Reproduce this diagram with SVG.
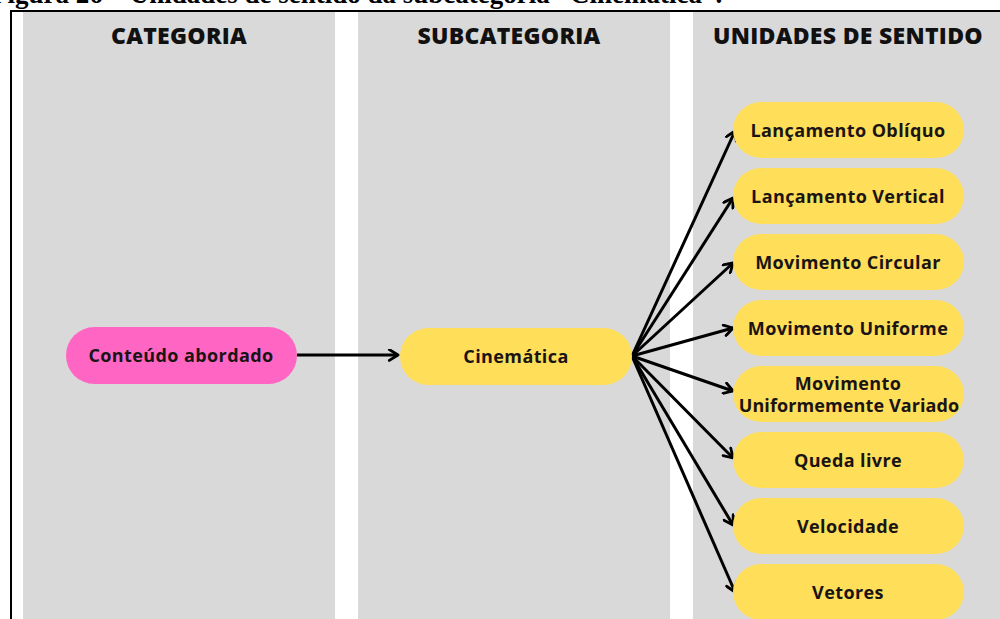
<svg xmlns="http://www.w3.org/2000/svg" width="1000" height="619" viewBox="0 0 1000 619">
  <style>
    .col { fill: #d9d9d9; }
    .hdr { font-family: "Open Sans", "DejaVu Sans", sans-serif; font-weight: 800; font-size: 23px; fill: #111; text-anchor: middle; letter-spacing: 0.3px; }
    .lbl { font-family: "Open Sans", "DejaVu Sans", sans-serif; font-weight: 700; font-size: 18px; fill: #1a1414; text-anchor: middle; dominant-baseline: central; letter-spacing: 0.4px; }
    .tight { letter-spacing: 0.1px; }
    .pink { fill: #ff66c4; }
    .yel { fill: #ffde59; }
    .cap { font-family: "Liberation Serif", "Times New Roman", serif; font-weight: 700; font-size: 27px; fill: #000; }
    .wire { stroke: #000; stroke-width: 3; fill: none; marker-end: url(#chev); }
  </style>
  <defs>
    <marker id="chev" viewBox="0 0 12 12" refX="10" refY="6" markerWidth="13" markerHeight="13" markerUnits="userSpaceOnUse" orient="auto">
      <path d="M2,1 L10,6 L2,11" fill="none" stroke="#000" stroke-width="2.6" stroke-linecap="round" stroke-linejoin="round"/>
    </marker>
  </defs>

  <rect width="1000" height="619" fill="#fff"/>

  <!-- caption, clipped at the top edge -->
  <text class="cap" x="-9" y="3">Figura 26 – Unidades de sentido da subcategoria “Cinemática”.</text>

  <!-- frame -->
  <path d="M11,619 V11 H1000" fill="none" stroke="#000" stroke-width="2"/>

  <!-- columns -->
  <g id="columns">
    <rect class="col" x="23" y="12" width="312" height="607"/>
    <rect class="col" x="358" y="12" width="312" height="607"/>
    <rect class="col" x="693" y="12" width="307" height="607"/>
    <text class="hdr" x="179" y="44">CATEGORIA</text>
    <text class="hdr" x="509" y="44">SUBCATEGORIA</text>
    <text class="hdr" x="848" y="44">UNIDADES DE SENTIDO</text>
  </g>

  <!-- connectors -->
  <g id="connectors">
    <line class="wire" x1="297" y1="355" x2="398" y2="355"/>
    <line class="wire" x1="632" y1="356" x2="735" y2="131"/>
    <line class="wire" x1="632" y1="356" x2="733" y2="198"/>
    <line class="wire" x1="632" y1="356" x2="733" y2="263"/>
    <line class="wire" x1="632" y1="356" x2="733" y2="328"/>
    <line class="wire" x1="632" y1="356" x2="733" y2="391"/>
    <line class="wire" x1="632" y1="356" x2="733" y2="458"/>
    <line class="wire" x1="632" y1="356" x2="733" y2="525"/>
    <line class="wire" x1="632" y1="356" x2="735" y2="592"/>
  </g>

  <g id="n-conteudo">
    <rect class="pink" x="66" y="327" width="231" height="57" rx="28.5"/>
    <text class="lbl" x="181" y="355">Conteúdo abordado</text>
  </g>
  <g id="n-cinematica">
    <rect class="yel" x="400" y="328" width="232" height="57" rx="28.5"/>
    <text class="lbl" x="516" y="356">Cinemática</text>
  </g>

  <g id="u-obliquo">
    <rect class="yel" x="733" y="102" width="231" height="56" rx="28"/>
    <text class="lbl" x="848" y="130">Lançamento Oblíquo</text>
  </g>
  <g id="u-vertical">
    <rect class="yel" x="733" y="168" width="231" height="56" rx="28"/>
    <text class="lbl" x="848" y="196">Lançamento Vertical</text>
  </g>
  <g id="u-circular">
    <rect class="yel" x="733" y="234" width="231" height="56" rx="28"/>
    <text class="lbl" x="848" y="262">Movimento Circular</text>
  </g>
  <g id="u-uniforme">
    <rect class="yel" x="733" y="300" width="231" height="56" rx="28"/>
    <text class="lbl" x="848" y="328">Movimento Uniforme</text>
  </g>
  <g id="u-muv">
    <rect class="yel" x="733" y="366" width="231" height="56" rx="28"/>
    <text class="lbl" x="848" y="383">Movimento</text>
    <text class="lbl tight" x="849" y="405">Uniformemente Variado</text>
  </g>
  <g id="u-queda">
    <rect class="yel" x="733" y="432" width="231" height="56" rx="28"/>
    <text class="lbl" x="848" y="460">Queda livre</text>
  </g>
  <g id="u-velocidade">
    <rect class="yel" x="733" y="498" width="231" height="56" rx="28"/>
    <text class="lbl" x="848" y="526">Velocidade</text>
  </g>
  <g id="u-vetores">
    <rect class="yel" x="733" y="564" width="231" height="56" rx="28"/>
    <text class="lbl" x="848" y="592">Vetores</text>
  </g>
</svg>
